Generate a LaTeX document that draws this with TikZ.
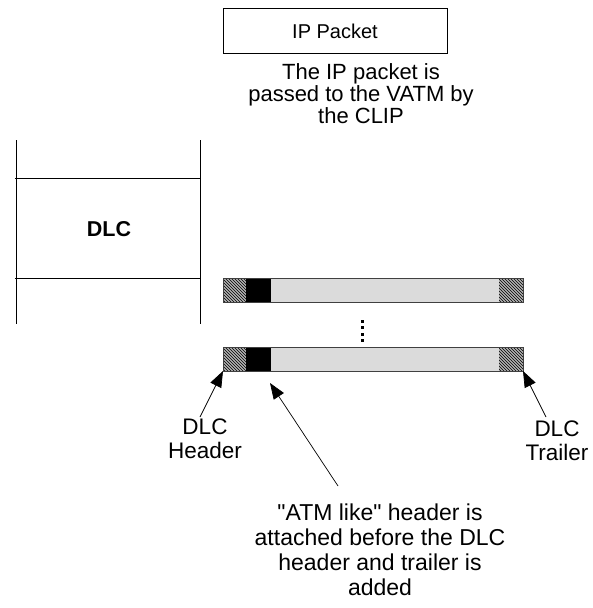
\documentclass[tikz,border=0pt]{standalone}
\usepackage{fontspec}
\setmainfont{Liberation Sans}
\usetikzlibrary{arrows.meta,patterns}

\tikzset{
  label/.style={align=center, inner sep=0pt, font=\fontsize{22.5}{24}\selectfont},
  callout/.style={-{Triangle[length=16pt,width=12pt]}, line width=0.7pt},
  hatched/.style={fill=gray!60, postaction={pattern=north west lines}},
}

\begin{document}
\begin{tikzpicture}[x=100pt,y=-100pt]
            \useasboundingbox (0,0) rectangle (5.93,6.08);

            % IP packet and the note under it
            \draw[line width=0.7pt] (2.23,.08) rectangle (4.47,.53);
            \node[label, font=\fontsize{20}{22}\selectfont] (ip) at (3.35,.31) {IP Packet};
            \node[label, font=\fontsize{22}{22}\selectfont] (note) at (3.61,.94) {The IP packet is\\passed to the VATM by\\the CLIP};

            % DLC layer
            \draw[line width=0.7pt] (.16,1.40) -- (.16,3.24);
            \draw[line width=0.7pt] (2.00,1.40) -- (2.00,3.24);
            \draw[line width=0.7pt] (.15,1.78) -- (2.00,1.78);
            \draw[line width=0.7pt] (.15,2.78) -- (2.00,2.78);
            \node[label, font=\fontsize{21.5}{24}\selectfont\bfseries] (dlc) at (1.09,2.29) {DLC};

            % frames
            \foreach \y in {2.78,3.47} {
              \fill[hatched] (2.23,\y) rectangle (2.46,\y+.24);
              \fill[black] (2.46,\y) rectangle (2.71,\y+.24);
              \fill[gray!28] (2.71,\y) rectangle (4.99,\y+.24);
              \fill[hatched] (4.99,\y) rectangle (5.23,\y+.24);
              \draw[gray!50!black, line width=0.6pt] (2.23,\y) rectangle (5.23,\y+.24);
            }
            \foreach \d in {3.21,3.275,3.34,3.405}
              \fill (3.605,\d-.015) rectangle (3.635,\d+.015);

            \coordinate (hdr) at (2.23,3.71);
            \coordinate (atm) at (2.70,3.83);
            \coordinate (trl) at (5.23,3.71);

            \node[label] (hdrtext) at (2.05,4.39) {DLC\\Header};
            \node[label] (trltext) at (5.57,4.41) {DLC\\Trailer};
            \node[label, font=\fontsize{23}{25}\selectfont] (atmtext) at (3.80,5.50) {\textquotedbl ATM like\textquotedbl{} header is\\attached before the DLC\\header and trailer is\\added};

            \draw[callout] (2.00,4.17) -- (hdr);
            \draw[callout] (5.46,4.17) -- (trl);
            \draw[callout] (3.38,4.86) -- (atm);
\end{tikzpicture}
\end{document}
